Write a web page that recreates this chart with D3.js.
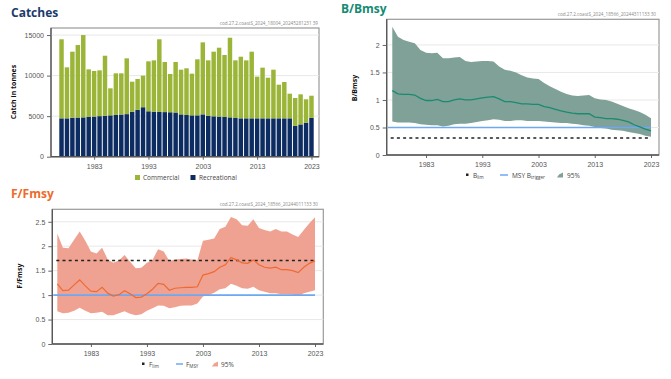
<!DOCTYPE html>
<html>
<head>
<meta charset="utf-8">
<script src="https://cdn.jsdelivr.net/npm/d3@7"></script>
<style>
  body { margin: 0; background: #fff; }
  svg { display: block; font-family: "Open Sans", sans-serif; }
  .tick text { fill: #555; font-size: 7px; }
</style>
</head>
<body>
<div id="chart"></div>
<script>
// years shown in every panel
var years = d3.range(1977, 2024);
var tickYears = [1983, 1993, 2003, 2013, 2023];

// Catches (tonnes)
var commercial = [9750, 6290, 8150, 8940, 10150, 5870, 5620, 5650, 7400, 3330,
    5130, 5080, 6880, 3700, 3800, 3890, 6160, 6330, 8960, 6180,
    4720, 6230, 5510, 5760, 5140, 6910, 8880, 6820, 7970, 8490,
    7640, 9820, 7110, 7600, 7150, 8220, 5140, 6250, 5010, 6000,
    4150, 4480, 3040, 3440, 3710, 2880, 2740];
var recreational = [4730, 4730, 4800, 4830, 4850, 4900, 4950, 5000, 5050, 5100,
    5150, 5200, 5250, 5550, 5780, 6100, 5600, 5550, 5520, 5500,
    5480, 5450, 5220, 5140, 5100, 5100, 5220, 5060, 4980, 4950,
    4900, 4850, 4770, 4730, 4730, 4730, 4730, 4730, 4730, 4730,
    4730, 4730, 4730, 3800, 3980, 4200, 4780];
var catchTicks = [0, 5000, 10000, 15000];

// B/Bmsy
var bUpper = [2.33, 2.15, 2.09, 2.06, 2.03, 1.91, 1.86, 1.85, 1.86, 1.76,
    1.76, 1.77, 1.78, 1.71, 1.69, 1.70, 1.71, 1.71, 1.70, 1.61,
    1.55, 1.53, 1.50, 1.45, 1.41, 1.39, 1.38, 1.31, 1.25, 1.20,
    1.15, 1.11, 1.08, 1.07, 1.08, 1.09, 1.03, 1.01, 1.00, 0.97,
    0.93, 0.89, 0.85, 0.82, 0.78, 0.73, 0.67];
var bMedian = [1.17, 1.11, 1.10, 1.10, 1.09, 1.03, 0.99, 0.99, 1.01, 0.97,
    0.97, 1.00, 1.02, 1.00, 1.00, 1.02, 1.04, 1.05, 1.06, 1.02,
    0.97, 0.97, 0.95, 0.93, 0.93, 0.92, 0.92, 0.88, 0.86, 0.83,
    0.80, 0.78, 0.76, 0.75, 0.75, 0.75, 0.69, 0.68, 0.66, 0.66,
    0.65, 0.63, 0.60, 0.55, 0.51, 0.47, 0.44];
var bLower = [0.61, 0.59, 0.59, 0.59, 0.58, 0.56, 0.55, 0.54, 0.54, 0.52,
    0.53, 0.56, 0.57, 0.57, 0.58, 0.60, 0.62, 0.63, 0.65, 0.64,
    0.62, 0.62, 0.63, 0.63, 0.62, 0.62, 0.62, 0.61, 0.60, 0.59,
    0.58, 0.58, 0.57, 0.56, 0.54, 0.53, 0.51, 0.49, 0.48, 0.46,
    0.45, 0.44, 0.42, 0.40, 0.38, 0.35, 0.33];
var bTicks = [0, 0.5, 1, 1.5, 2];
var bLim = 0.31;
var msyBtrigger = 0.5;

// F/Fmsy
var fUpper = [2.26, 1.97, 1.96, 2.13, 2.30, 2.11, 1.89, 1.85, 1.97, 1.73,
    1.66, 1.71, 1.82, 1.68, 1.55, 1.56, 1.66, 1.72, 1.94, 1.89,
    1.70, 1.73, 1.74, 1.75, 1.73, 1.71, 2.11, 2.13, 2.16, 2.35,
    2.40, 2.60, 2.55, 2.43, 2.42, 2.55, 2.37, 2.33, 2.30, 2.35,
    2.30, 2.30, 2.24, 2.19, 2.33, 2.47, 2.59];
var fMedian = [1.23, 1.09, 1.10, 1.21, 1.31, 1.19, 1.08, 1.07, 1.16, 1.04,
    0.98, 1.01, 1.09, 1.03, 0.95, 0.96, 1.03, 1.12, 1.24, 1.22,
    1.10, 1.14, 1.15, 1.16, 1.16, 1.17, 1.41, 1.44, 1.48, 1.57,
    1.62, 1.77, 1.72, 1.66, 1.65, 1.72, 1.62, 1.57, 1.55, 1.57,
    1.52, 1.52, 1.50, 1.46, 1.57, 1.65, 1.70];
var fLower = [0.67, 0.63, 0.64, 0.68, 0.74, 0.68, 0.63, 0.64, 0.66, 0.59,
    0.59, 0.63, 0.67, 0.62, 0.59, 0.61, 0.68, 0.73, 0.79, 0.78,
    0.73, 0.75, 0.78, 0.79, 0.79, 0.83, 0.97, 1.00, 1.05, 1.12,
    1.14, 1.23, 1.19, 1.14, 1.13, 1.17, 1.10, 1.07, 1.04, 1.04,
    1.02, 1.02, 1.01, 0.98, 1.04, 1.07, 1.10];
var fTicks = [0, 0.5, 1, 1.5, 2, 2.5];
var fLim = 1.71;
var fMsy = 1;

var svg = d3.select("#chart").append("svg")
    .attr("width", 671)
    .attr("height", 379);

// draws the box, grid lines and both axes of one panel
function drawFrame(box, x, y, yTicks, yFormat) {
    var g = svg.append("g");
    g.append("rect")
        .attr("x", box.left).attr("y", box.top)
        .attr("width", box.right - box.left).attr("height", box.bottom - box.top)
        .attr("fill", "#fff").attr("stroke", "#9a9a9a").attr("stroke-width", 1.2);

    g.selectAll(".grid").data(yTicks.filter(d => d > 0)).enter().append("line")
        .attr("x1", box.left).attr("x2", box.right)
        .attr("y1", d => y(d)).attr("y2", d => y(d))
        .attr("stroke", "#e8e8e8").attr("stroke-width", 1);

    var yAxis = g.append("g")
        .attr("transform", `translate(${box.left},0)`)
        .call(d3.axisLeft(y).tickValues(yTicks).tickSize(4).tickPadding(3).tickFormat(yFormat));
    yAxis.select(".domain").remove();
    yAxis.selectAll(".tick line").attr("stroke", "#666");

    var xAxis = g.append("g")
        .attr("transform", `translate(0,${box.bottom})`)
        .call(d3.axisBottom(x).tickValues(tickYears).tickSize(3).tickPadding(4).tickFormat(d3.format("d")));
    xAxis.select(".domain").remove();
    xAxis.selectAll(".tick line").attr("stroke", "#666");

    // darker left and bottom axis lines
    g.append("line").attr("x1", box.left).attr("x2", box.left)
        .attr("y1", box.top).attr("y2", box.bottom)
        .attr("stroke", "#555").attr("stroke-width", 1.3);
    g.append("line").attr("x1", box.left).attr("x2", box.right)
        .attr("y1", box.bottom).attr("y2", box.bottom)
        .attr("stroke", "#555").attr("stroke-width", 1.3);
    return g;
}

function yLabel(text, x, y) {
    svg.append("text")
        .attr("transform", `translate(${x},${y}) rotate(-90)`)
        .attr("text-anchor", "middle")
        .attr("font-size", 7).attr("font-weight", "bold").attr("fill", "#111")
        .text(text);
}

function title(text, x, y, color) {
    svg.append("text").attr("x", x).attr("y", y)
        .attr("font-size", 12).attr("font-weight", "bold").attr("fill", color)
        .text(text);
}

function stamp(text, x, y) {
    svg.append("text").attr("x", x).attr("y", y)
        .attr("text-anchor", "end").attr("font-size", 4.6).attr("fill", "#888")
        .text(text);
}

function subText(x, y, main, sub) {
    var t = svg.append("text").attr("x", x).attr("y", y)
        .attr("font-size", 6.5).attr("fill", "#444");
    t.append("tspan").text(main);
    t.append("tspan").attr("font-size", 4.5).attr("dy", 1.5).text(sub);
}

function bandIcon(x, y, color) {
    svg.append("path")
        .attr("d", `M${x},${y + 2.5}L${x + 2},${y - 0.5}L${x + 6},${y - 2.5}L${x + 6},${y + 2.5}Z`)
        .attr("fill", color);
}

// ---------------- Catches ----------------
title("Catches", 11, 17, "#1b3a6d");
stamp("cod.27.2.coastS_2024_18004_20245281231 39", 318, 25);

var cBox = { left: 51, right: 319, top: 28, bottom: 156.7 };
var cx = d3.scaleBand().domain(years).range([59.3, 313.7]).paddingInner(0.18);
var cxTick = d3.scaleLinear().domain([1977, 2023]).range([cx(1977) + cx.bandwidth() / 2, cx(2023) + cx.bandwidth() / 2]);
var cy = d3.scaleLinear().domain([0, 15870]).range([cBox.bottom, cBox.top]);
drawFrame(cBox, cxTick, cy, catchTicks, d3.format("d"));
yLabel("Catch in tonnes", 16, 92);

var cGroup = svg.append("g");
cGroup.selectAll(".rec").data(years).enter().append("rect")
    .attr("x", d => cx(d))
    .attr("width", cx.bandwidth())
    .attr("y", (d, i) => cy(recreational[i]))
    .attr("height", (d, i) => cy(0) - cy(recreational[i]))
    .attr("fill", "#0c2c62");
cGroup.selectAll(".com").data(years).enter().append("rect")
    .attr("x", d => cx(d))
    .attr("width", cx.bandwidth())
    .attr("y", (d, i) => cy(recreational[i] + commercial[i]))
    .attr("height", (d, i) => cy(recreational[i]) - cy(recreational[i] + commercial[i]))
    .attr("fill", "#9bb538");
// redraw bottom axis line over bars
svg.append("line").attr("x1", cBox.left).attr("x2", cBox.right)
    .attr("y1", cBox.bottom).attr("y2", cBox.bottom)
    .attr("stroke", "#555").attr("stroke-width", 1.3);

svg.append("rect").attr("x", 135).attr("y", 175).attr("width", 5).attr("height", 5).attr("fill", "#9bb538");
svg.append("text").attr("x", 143).attr("y", 180).attr("font-size", 6.5).attr("fill", "#444").text("Commercial");
svg.append("rect").attr("x", 190.5).attr("y", 175).attr("width", 5).attr("height", 5).attr("fill", "#0c2c62");
svg.append("text").attr("x", 199).attr("y", 180).attr("font-size", 6.5).attr("fill", "#444").text("Recreational");

// ---------------- B/Bmsy ----------------
title("B/Bmsy", 341, 13, "#168a73");
stamp("cod.27.2.coastS_2024_18566_20244311133 30", 656, 15.5);

var bBox = { left: 386.7, right: 659, top: 19.3, bottom: 155 };
var bx = d3.scaleLinear().domain([1977, 2023]).range([392.3, 651]);
var by = d3.scaleLinear().domain([0, 2.466]).range([bBox.bottom, bBox.top]);
drawFrame(bBox, bx, by, bTicks, d3.format("~g"));
yLabel("B/Bmsy", 357, 88);

svg.append("path").datum(years)
    .attr("d", d3.area().x(d => bx(d)).y0((d, i) => by(bLower[i])).y1((d, i) => by(bUpper[i])))
    .attr("fill", "#7fa197");
svg.append("line").attr("x1", bBox.left + 1).attr("x2", bx(2023))
    .attr("y1", by(msyBtrigger)).attr("y2", by(msyBtrigger))
    .attr("stroke", "#6ea8f2").attr("stroke-width", 1.6);
svg.append("line").attr("x1", bBox.left + 4).attr("x2", bx(2023))
    .attr("y1", by(bLim)).attr("y2", by(bLim))
    .attr("stroke", "#222").attr("stroke-width", 1.5).attr("stroke-dasharray", "3,3.2");
svg.append("path").datum(years)
    .attr("d", d3.line().x(d => bx(d)).y((d, i) => by(bMedian[i])))
    .attr("fill", "none").attr("stroke", "#1a8b6f").attr("stroke-width", 1.3);

svg.append("rect").attr("x", 466).attr("y", 173.5).attr("width", 2.5).attr("height", 2.5).attr("fill", "#222");
subText(473, 177.5, "B", "lim");
svg.append("line").attr("x1", 500).attr("x2", 508).attr("y1", 175).attr("y2", 175)
    .attr("stroke", "#6ea8f2").attr("stroke-width", 1.5);
subText(512, 177.5, "MSY B", "trigger");
bandIcon(557, 175, "#7fa197");
svg.append("text").attr("x", 567).attr("y", 177.5).attr("font-size", 6.5).attr("fill", "#444").text("95%");

// ---------------- F/Fmsy ----------------
title("F/Fmsy", 11, 198, "#ee6a2b");
stamp("cod.27.2.coastS_2024_18566_20244011133 30", 318, 206);

var fBox = { left: 52.3, right: 323.3, top: 209.3, bottom: 344 };
var fx = d3.scaleLinear().domain([1977, 2023]).range([57.3, 315]);
var fy = d3.scaleLinear().domain([0, 2.755]).range([fBox.bottom, fBox.top]);
drawFrame(fBox, fx, fy, fTicks, d3.format("~g"));
yLabel("F/Fmsy", 22, 276);

svg.append("path").datum(years)
    .attr("d", d3.area().x(d => fx(d)).y0((d, i) => fy(fLower[i])).y1((d, i) => fy(fUpper[i])))
    .attr("fill", "#efa291");
svg.append("line").attr("x1", fBox.left + 1).attr("x2", fx(2023))
    .attr("y1", fy(fMsy)).attr("y2", fy(fMsy))
    .attr("stroke", "#6ea8f2").attr("stroke-width", 1.6);
svg.append("line").attr("x1", fBox.left + 4).attr("x2", fx(2023))
    .attr("y1", fy(fLim)).attr("y2", fy(fLim))
    .attr("stroke", "#222").attr("stroke-width", 1.5).attr("stroke-dasharray", "3,3.2");
svg.append("path").datum(years)
    .attr("d", d3.line().x(d => fx(d)).y((d, i) => fy(fMedian[i])))
    .attr("fill", "none").attr("stroke", "#ef6a33").attr("stroke-width", 1.2);

svg.append("rect").attr("x", 142).attr("y", 362.5).attr("width", 2.5).attr("height", 2.5).attr("fill", "#222");
subText(149, 366.5, "F", "lim");
svg.append("line").attr("x1", 176).attr("x2", 183).attr("y1", 364).attr("y2", 364)
    .attr("stroke", "#6ea8f2").attr("stroke-width", 1.5);
subText(186, 366.5, "F", "MSY");
bandIcon(212, 364, "#efa291");
svg.append("text").attr("x", 221).attr("y", 366.5).attr("font-size", 6.5).attr("fill", "#444").text("95%");
</script>
</body>
</html>
